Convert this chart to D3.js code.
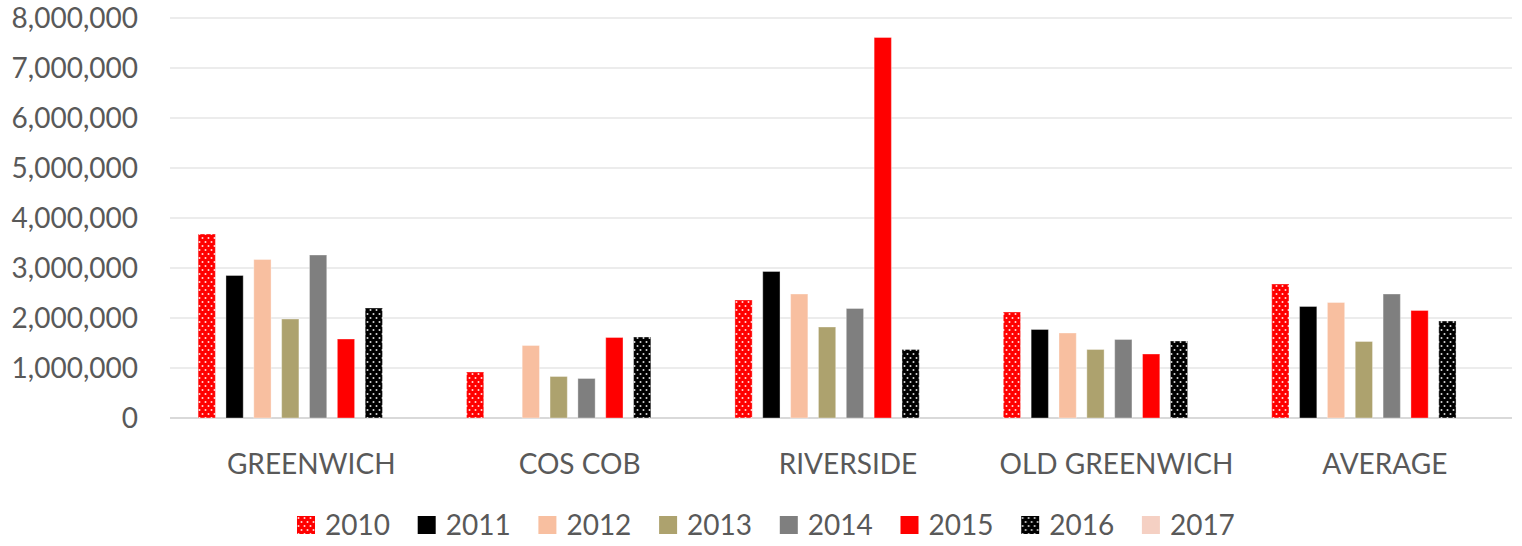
<!DOCTYPE html>
<html>
<head>
<meta charset="utf-8">
<script src="https://cdn.jsdelivr.net/npm/d3@7"></script>
<style>
  body { margin: 0; background: #fff; }
  text { font-family: Lato, "Open Sans", sans-serif; fill: #595959; }
</style>
</head>
<body>
<div class="bar-chart"></div>
<script>
// towns on the x axis, one array of values per year (2017 has no bars)
var towns = ["GREENWICH", "COS COB", "RIVERSIDE", "OLD GREENWICH", "AVERAGE"]
var years = ["2010", "2011", "2012", "2013", "2014", "2015", "2016", "2017"]
var v2010 = [3680000, 920000, 2360000, 2120000, 2680000]
var v2011 = [2850000, 0, 2930000, 1770000, 2230000]
var v2012 = [3170000, 1450000, 2480000, 1700000, 2310000]
var v2013 = [1980000, 830000, 1820000, 1370000, 1530000]
var v2014 = [3260000, 790000, 2190000, 1570000, 2480000]
var v2015 = [1580000, 1610000, 7610000, 1280000, 2150000]
var v2016 = [2200000, 1620000, 1370000, 1540000, 1940000]
var v2017 = [null, null, null, null, null]
var yTicks = [0, 1000000, 2000000, 3000000, 4000000, 5000000, 6000000, 7000000, 8000000]

var colors = ["url(#dots-red)", "#000000", "#f8bfa0", "#ada26e", "#7f7f7f", "#ff0000", "url(#dots-black)", "#f5d0c3"]
var series = [v2010, v2011, v2012, v2013, v2014, v2015, v2016, v2017]

var width = 1522, height = 546
var plot = { left: 170, right: 1512, top: 18, bottom: 418 }

var svg = d3.select(".bar-chart").append("svg")
    .attr("width", width)
    .attr("height", height)

// dotted fills used by 2010 and 2016
var defs = svg.append("defs")
;[["dots-red", "#ff0000"], ["dots-black", "#000000"]].forEach(function(p) {
  var pat = defs.append("pattern")
      .attr("id", p[0])
      .attr("patternUnits", "userSpaceOnUse")
      .attr("width", 6).attr("height", 8)
  pat.append("rect").attr("width", 6).attr("height", 8).attr("fill", p[1])
  pat.append("circle").attr("cx", 1.5).attr("cy", 2).attr("r", 1).attr("fill", "#ffffff").attr("opacity", 0.85)
  pat.append("circle").attr("cx", 4.5).attr("cy", 6).attr("r", 1).attr("fill", "#ffffff").attr("opacity", 0.85)
})

var x0 = d3.scaleBand()
    .domain(towns)
    .range([plot.left, plot.right])
    .paddingInner(0.17)
    .paddingOuter(0.085)
var x1 = d3.scaleBand()
    .domain(years)
    .range([0, x0.bandwidth()])
    .paddingInner(0.38)
    .paddingOuter(0.19)
var y = d3.scaleLinear()
    .domain([0, 8000000])
    .range([plot.bottom, plot.top])

// gridlines
svg.append("g").selectAll("line")
    .data(yTicks)
    .enter().append("line")
    .attr("x1", plot.left).attr("x2", plot.right)
    .attr("y1", function(d) { return y(d) }).attr("y2", function(d) { return y(d) })
    .attr("stroke", function(d) { return d === 0 ? "#d9d9d9" : "#e6e6e6" })
    .attr("stroke-width", function(d) { return d === 0 ? 2 : 1.5 })

var yAxis = d3.axisLeft(y)
    .tickValues(yTicks)
    .tickFormat(d3.format(","))
    .tickSize(0)
    .tickPadding(0)
svg.append("g")
    .attr("transform", "translate(138,0)")
    .call(yAxis)
    .call(function(g) { g.select(".domain").remove() })
    .selectAll("text")
    .style("font-size", "28px")
    .attr("dy", "0.35em")
    .attr("fill", "#595959")

var xAxis = d3.axisBottom(x0).tickSize(0).tickPadding(0)
svg.append("g")
    .attr("transform", "translate(0," + plot.bottom + ")")
    .call(xAxis)
    .call(function(g) { g.select(".domain").remove() })
    .selectAll("text")
    .style("font-size", "28px")
    .attr("y", 46)
    .attr("dx", 7)
    .attr("dy", "0.35em")
    .attr("fill", "#595959")

// bars
years.forEach(function(yr, i) {
  svg.append("g").attr("class", "series-" + yr)
    .selectAll("rect")
    .data(series[i].map(function(v, j) { return { town: towns[j], value: v } }).filter(function(d) { return d.value }))
    .enter().append("rect")
    .attr("x", function(d) { return x0(d.town) + x1(yr) })
    .attr("width", x1.bandwidth())
    .attr("y", function(d) { return y(d.value) })
    .attr("height", function(d) { return y(0) - y(d.value) })
    .attr("fill", colors[i])
    .attr("stroke", "rgba(255,255,255,0.35)")
    .attr("stroke-width", 1)
})

// legend
var legendStep = 120.7, legendX = 297, legendY = 516
var legend = svg.append("g").selectAll("g")
    .data(years)
    .enter().append("g")
    .attr("transform", function(d, i) { return "translate(" + (legendX + i * legendStep) + "," + legendY + ")" })
legend.append("rect")
    .attr("width", 18).attr("height", 18)
    .attr("fill", function(d, i) { return colors[i] })
legend.append("text")
    .text(function(d) { return d })
    .attr("x", 28).attr("y", 9)
    .attr("dy", "0.35em")
    .style("font-size", "28px")
</script>
</body>
</html>
